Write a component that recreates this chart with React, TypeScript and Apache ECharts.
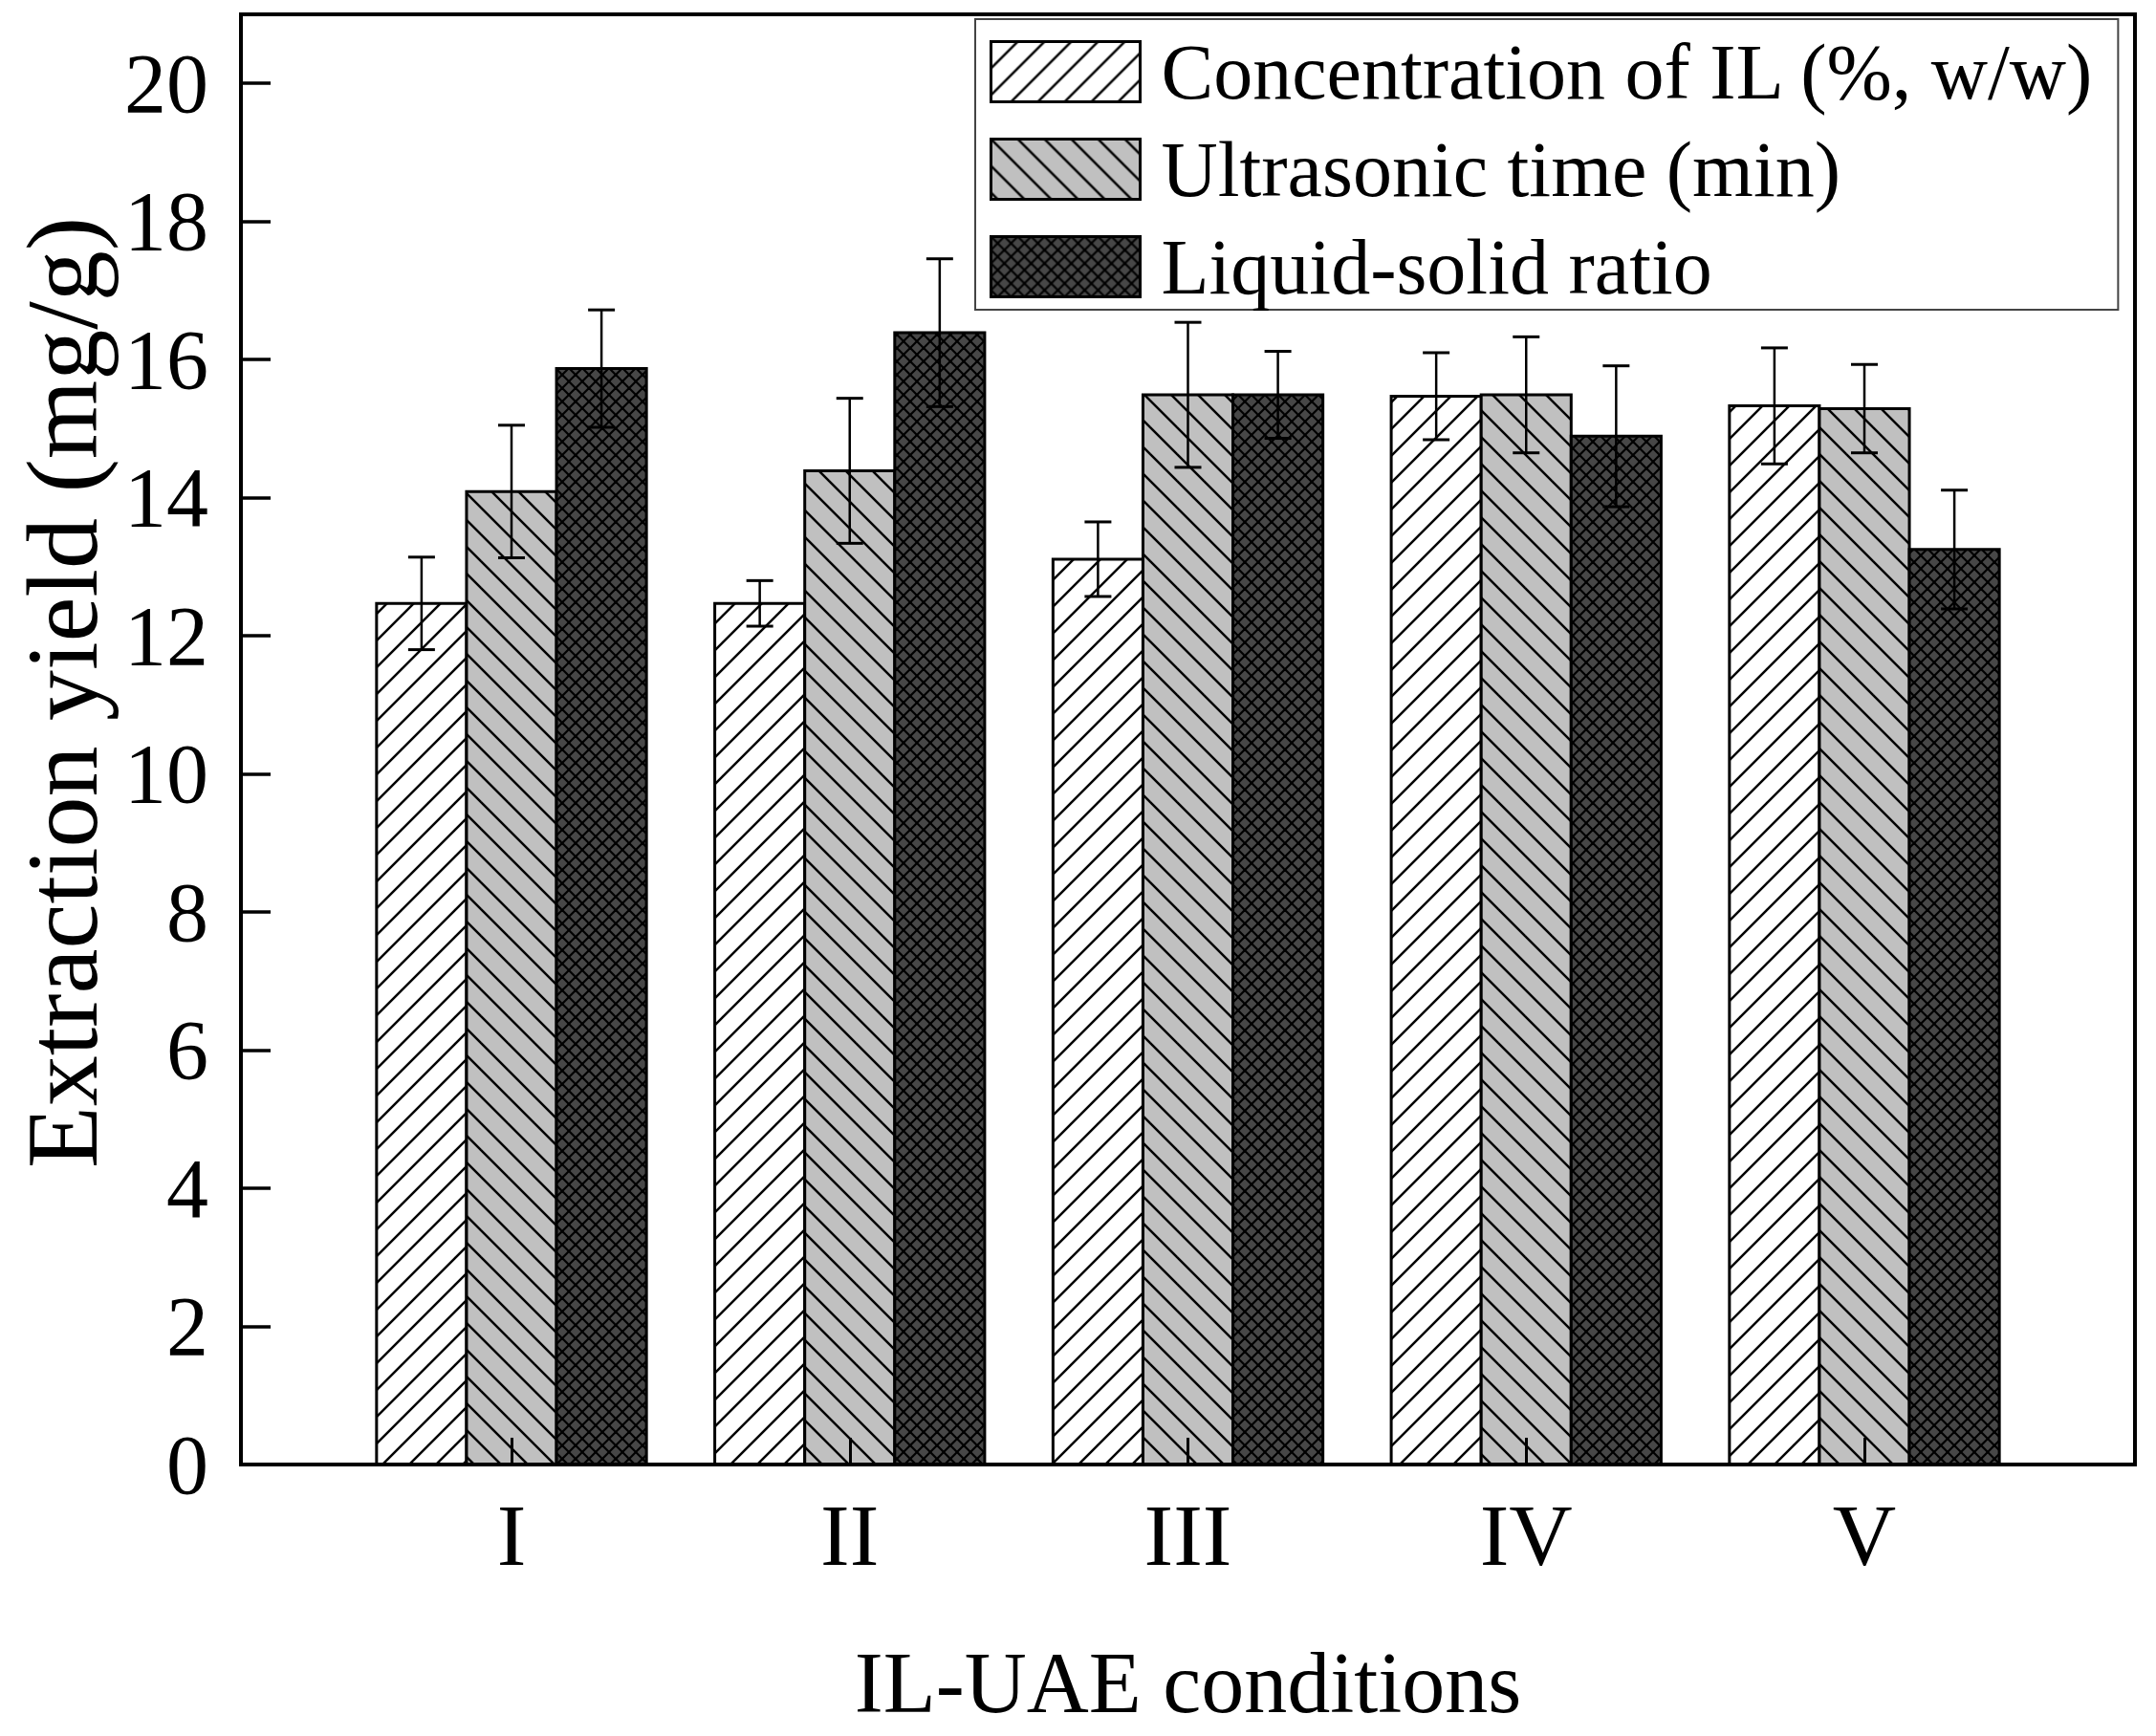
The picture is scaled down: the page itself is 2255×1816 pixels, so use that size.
import React, { useEffect, useRef } from "react";
import * as echarts from "echarts";

const categories = ["I", "II", "III", "IV", "V"];
const categoryPositions = [1, 2, 3, 4, 5];
const seriesNames = [
  "Concentration of IL (%, w/w)",
  "Ultrasonic time (min)",
  "Liquid-solid ratio",
];
const concValues = [12.47, 12.47, 13.11, 15.47, 15.33];
const concErrors = [0.67, 0.33, 0.54, 0.63, 0.84];
const timeValues = [14.09, 14.39, 15.49, 15.49, 15.29];
const timeErrors = [0.96, 1.05, 1.05, 0.84, 0.64];
const ratioValues = [15.87, 16.39, 15.49, 14.89, 13.25];
const ratioErrors = [0.85, 1.07, 0.63, 1.02, 0.86];
const yTicks = [0, 2, 4, 6, 8, 10, 12, 14, 16, 18, 20];

const FONT = "'Liberation Serif', 'Times New Roman', Times, serif";

function makeTile(bg: string, kind: "fwd" | "back" | "cross", size: number, lw: number) {
  const c = document.createElement("canvas");
  c.width = size;
  c.height = size;
  const g = c.getContext("2d")!;
  g.fillStyle = bg;
  g.fillRect(0, 0, size, size);
  g.strokeStyle = "#000";
  g.lineWidth = lw;
  g.lineCap = "square";
  const fwd = () => {
    for (const x of [-size, 0, size]) {
      g.beginPath();
      g.moveTo(x, size);
      g.lineTo(x + size, 0);
      g.stroke();
    }
  };
  const back = () => {
    for (const x of [-size, 0, size]) {
      g.beginPath();
      g.moveTo(x, 0);
      g.lineTo(x + size, size);
      g.stroke();
    }
  };
  if (kind === "fwd") fwd();
  else if (kind === "back") back();
  else {
    fwd();
    back();
  }
  return { image: c, repeat: "repeat", imageWidth: size, imageHeight: size } as any;
}

export default function App() {
  const ref = useRef<HTMLDivElement>(null);
  useEffect(() => {
    document.body.style.margin = "0";
    const chart = echarts.init(ref.current!, null, { renderer: "svg" });
    const patterns = [
      makeTile("#ffffff", "fwd", 28, 2.5),
      makeTile("#c0c0c0", "back", 28, 2.5),
      makeTile("#474747", "cross", 14, 2.2),
    ];
    const valueSets = [concValues, timeValues, ratioValues];
    const errorSets = [concErrors, timeErrors, ratioErrors];
    const offsets = [-0.266, 0, 0.266];
    const barW = 0.266;

    const series = seriesNames.map((name, si) => ({
      type: "custom",
      name,
      coordinateSystem: "cartesian2d",
      itemStyle: { color: patterns[si], borderColor: "#000", borderWidth: 3 },
      encode: { x: 0, y: 1 },
      data: categoryPositions.map((p, i) => [p, valueSets[si][i], errorSets[si][i]]),
      z: 2,
      renderItem: (params: any, api: any) => {
        const xc = api.value(0) + offsets[si];
        const v = api.value(1);
        const e = api.value(2);
        const base = api.coord([xc, 0]);
        const top = api.coord([xc, v]);
        const hi = api.coord([xc, v + e]);
        const lo = api.coord([xc, v - e]);
        const w = api.size([barW, 0])[0];
        const cap = 14;
        return {
          type: "group",
          children: [
            {
              type: "rect",
              shape: { x: base[0] - w / 2, y: top[1], width: w, height: base[1] - top[1] },
              style: { fill: patterns[si], stroke: "#000", lineWidth: 3 },
            },
            {
              type: "line",
              shape: { x1: hi[0], y1: hi[1], x2: lo[0], y2: lo[1] },
              style: { stroke: "#000", lineWidth: 2.5 },
            },
            {
              type: "line",
              shape: { x1: hi[0] - cap, y1: hi[1], x2: hi[0] + cap, y2: hi[1] },
              style: { stroke: "#000", lineWidth: 3 },
            },
            {
              type: "line",
              shape: { x1: lo[0] - cap, y1: lo[1], x2: lo[0] + cap, y2: lo[1] },
              style: { stroke: "#000", lineWidth: 3 },
            },
          ],
        };
      },
    }));

    chart.setOption({
      animation: false,
      backgroundColor: "#fff",
      textStyle: { fontFamily: FONT, color: "#000" },
      grid: {
        left: 252,
        top: 15,
        width: 1981,
        height: 1517,
        outerBoundsMode: "none",
        containLabel: false,
        show: true,
        borderColor: "#000",
        borderWidth: 4,
        backgroundColor: "transparent",
      },
      legend: {
        left: 1020,
        top: 20,
        orient: "vertical",
        align: "left",
        icon: "rect",
        itemWidth: 156,
        itemHeight: 63,
        itemGap: 20,
        padding: [14, 24, 4, 15],
        borderColor: "#444",
        borderWidth: 2,
        backgroundColor: "#fff",
        selectedMode: false,
        textStyle: {
          fontFamily: FONT,
          fontSize: 82,
          color: "#000",
          lineHeight: 80,
          padding: [0, 0, 0, 17],
        },
        data: seriesNames.map((n, i) => ({
          name: n,
          icon: "rect",
          itemStyle: { color: patterns[i], borderColor: "#000", borderWidth: 3 },
        })),
      },
      xAxis: {
        type: "value",
        min: 0.2,
        max: 5.8,
        z: 10,
        name: "IL-UAE conditions",
        nameLocation: "middle",
        nameGap: 183,
        nameTextStyle: { fontFamily: FONT, fontSize: 90, color: "#000" },
        splitLine: { show: false },
        axisLine: { show: true, lineStyle: { color: "#000", width: 4 } },
        axisTick: {
          show: true,
          inside: true,
          length: 28,
          customValues: categoryPositions,
          lineStyle: { color: "#000", width: 3 },
        },
        axisLabel: {
          customValues: categoryPositions,
          formatter: (v: number) => categories[Math.round(v) - 1] ?? "",
          fontFamily: FONT,
          fontSize: 92,
          color: "#000",
          margin: 28,
        },
      },
      yAxis: {
        type: "value",
        min: 0,
        max: 21,
        z: 10,
        name: "Extraction yield (mg/g)",
        nameLocation: "middle",
        nameGap: 134,
        nameTextStyle: {
          fontFamily: FONT,
          fontSize: 106,
          lineHeight: 106,
          color: "#000",
          padding: [0, 0, 0, 98],
        },
        splitLine: { show: false },
        axisLine: { show: true, lineStyle: { color: "#000", width: 4 } },
        axisTick: {
          show: true,
          inside: true,
          length: 31,
          customValues: yTicks,
          lineStyle: { color: "#000", width: 3.5 },
        },
        axisLabel: {
          customValues: yTicks,
          fontFamily: FONT,
          fontSize: 88,
          color: "#000",
          margin: 34,
        },
      },
      series,
    });
    return () => chart.dispose();
  }, []);
  return <div ref={ref} style={{ width: 2255, height: 1816 }} />;
}
